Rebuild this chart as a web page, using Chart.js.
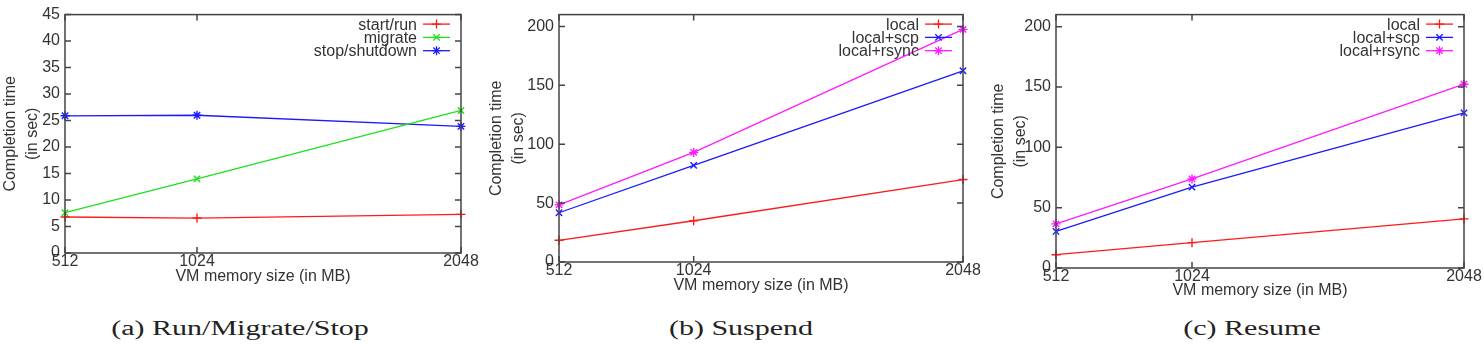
<!DOCTYPE html>
<html>
<head>
<meta charset="utf-8">
<script src="https://cdn.jsdelivr.net/npm/chart.js@4.4.1/dist/chart.umd.min.js"></script>
<style>
  body { margin: 0; background: #fff; width: 1484px; height: 354px; position: relative; overflow: hidden; }
  .box { position: absolute; top: 0; }
  .cap { position: absolute; top: 318px; font-family: "Liberation Serif", serif; font-size: 20px; line-height: 20px;
         color: #222; white-space: nowrap; transform: translateX(-50%) scaleX(1.5); }
</style>
</head>
<body>
<div class="box" style="left:0;width:490px;height:290px"><canvas id="runChart"></canvas></div>
<div class="box" style="left:486px;width:500px;height:300px"><canvas id="suspendChart"></canvas></div>
<div class="box" style="left:988px;width:496px;height:304px"><canvas id="resumeChart"></canvas></div>
<div class="cap" style="left:240px">(a) Run/Migrate/Stop</div>
<div class="cap" style="left:741px">(b) Suspend</div>
<div class="cap" style="left:1252px">(c) Resume</div>

<script>
// VM memory sizes on the x axis (MB)
const memSizes = [512, 1024, 2048];

// (a) run / migrate / stop
const startRun = [6.8, 6.6, 7.3];
const migrate = [7.6, 14.0, 26.9];
const stopShutdown = [25.9, 26.0, 23.9];
const runTicks = [0, 5, 10, 15, 20, 25, 30, 35, 40, 45];

// (b) suspend
const suspendLocal = [18.4, 35, 70];
const suspendScp = [41.8, 82, 162.3];
const suspendRsync = [48.5, 93, 197.5];

// (c) resume
const resumeLocal = [11, 21, 40.7];
const resumeScp = [30.3, 67, 128.6];
const resumeRsync = [36.6, 73.8, 152.3];

const timeTicks = [0, 50, 100, 150, 200];

const RED = '#ff1a1a';
const GREEN = '#1ee01e';
const BLUE = '#1a1aff';
const MAGENTA = '#ff1aff';
const TEXT = '#333';
const FONT = 'Liberation Sans';

function series(label, values, color, style) {
    return {
        label: label,
        data: values.map((v, i) => ({ x: memSizes[i], y: v })),
        borderColor: color,
        backgroundColor: color,
        borderWidth: 1.3,
        pointStyle: style,
        pointRadius: 4.5,
        pointBorderWidth: 1.4,
        pointHoverRadius: 4.5,
        clip: false,
        tension: 0
    };
}

// gnuplot style box with inward ticks on all four sides
const gnuFrame = {
    id: 'gnuFrame',
    afterDatasetsDraw(chart) {
        const { ctx, chartArea: a, scales: { x, y } } = chart;
        ctx.save();
        ctx.strokeStyle = '#444';
        ctx.lineWidth = 1.5;
        ctx.strokeRect(a.left, a.top, a.right - a.left, a.bottom - a.top);
        ctx.beginPath();
        x.ticks.forEach(t => {
            const px = x.getPixelForValue(t.value);
            ctx.moveTo(px, a.bottom); ctx.lineTo(px, a.bottom - 6);
            ctx.moveTo(px, a.top); ctx.lineTo(px, a.top + 6);
        });
        y.ticks.forEach(t => {
            const py = y.getPixelForValue(t.value);
            ctx.moveTo(a.left, py); ctx.lineTo(a.left + 6, py);
            ctx.moveTo(a.right, py); ctx.lineTo(a.right - 6, py);
        });
        ctx.stroke();
        ctx.restore();
    }
};

// key in the top right corner: text, then line sample with marker
const gnuKey = {
    id: 'gnuKey',
    afterDraw(chart) {
        const { ctx, chartArea: a } = chart;
        ctx.save();
        ctx.font = '16px "' + FONT + '"';
        ctx.textAlign = 'right';
        ctx.textBaseline = 'middle';
        chart.data.datasets.forEach((ds, i) => {
            const yy = a.top + 9.5 + i * 13.3;
            const x1 = a.right - 11;
            const x0 = x1 - 27;
            ctx.strokeStyle = ds.borderColor;
            ctx.fillStyle = ds.borderColor;
            ctx.lineWidth = ds.borderWidth;
            ctx.beginPath();
            ctx.moveTo(x0, yy);
            ctx.lineTo(x1, yy);
            ctx.stroke();
            Chart.helpers.drawPoint(ctx, {
                pointStyle: ds.pointStyle, radius: ds.pointRadius,
                borderWidth: ds.pointBorderWidth, rotation: 0
            }, (x0 + x1) / 2, yy);
            ctx.fillStyle = TEXT;
            ctx.fillText(ds.label, x0 - 6, yy + 1);
        });
        ctx.restore();
    }
};

function makeChart(id, datasets, yMax, yTicks, lay) {
    return new Chart(document.getElementById(id), {
        type: 'line',
        data: { datasets: datasets },
        options: {
            responsive: true,
            maintainAspectRatio: false,
            animation: false,
            layout: { padding: lay.padding },
            plugins: { legend: { display: false }, tooltip: { enabled: false } },
            scales: {
                x: {
                    type: 'linear',
                    min: 512,
                    max: 2048,
                    afterBuildTicks: s => { s.ticks = memSizes.map(v => ({ value: v })); },
                    afterFit: s => { s.height = lay.xHeight; },
                    grid: { display: false, drawTicks: false },
                    border: { display: false },
                    ticks: {
                        autoSkip: false, maxRotation: 0, padding: 0, color: TEXT,
                        font: { family: FONT, size: 16, lineHeight: 1.1 },
                        callback: v => String(v)
                    },
                    title: {
                        display: true, text: 'VM memory size (in MB)', color: TEXT, padding: 0,
                        font: { family: FONT, size: 16, lineHeight: 1.2 }
                    }
                },
                y: {
                    min: 0,
                    max: yMax,
                    afterBuildTicks: s => { s.ticks = yTicks.map(v => ({ value: v })); },
                    afterFit: s => { s.width = lay.yWidth; },
                    grid: { display: false, drawTicks: false },
                    border: { display: false },
                    ticks: {
                        padding: 5, color: TEXT,
                        font: { family: FONT, size: 16 },
                        callback: v => String(v)
                    },
                    title: {
                        display: true, text: ['Completion time', '(in sec)'], color: TEXT, padding: 0,
                        font: { family: FONT, size: 16, lineHeight: 1.35 }
                    }
                }
            }
        },
        plugins: [gnuFrame, gnuKey]
    });
}

makeChart('runChart', [
    series('start/run', startRun, RED, 'cross'),
    series('migrate', migrate, GREEN, 'crossRot'),
    series('stop/shutdown', stopShutdown, BLUE, 'star')
], 45, runTicks, { padding: { left: 0, top: 11, right: 29, bottom: 4 }, yWidth: 65, xHeight: 33 });

makeChart('suspendChart', [
    series('local', suspendLocal, RED, 'cross'),
    series('local+scp', suspendScp, BLUE, 'crossRot'),
    series('local+rsync', suspendRsync, MAGENTA, 'star')
], 210, timeTicks, { padding: { left: 0, top: 11, right: 23, bottom: 5 }, yWidth: 73, xHeight: 33 });

makeChart('resumeChart', [
    series('local', resumeLocal, RED, 'cross'),
    series('local+scp', resumeScp, BLUE, 'crossRot'),
    series('local+rsync', resumeRsync, MAGENTA, 'star')
], 210, timeTicks, { padding: { left: 0, top: 14, right: 20, bottom: 4 }, yWidth: 68, xHeight: 32 });
</script>
</body>
</html>
